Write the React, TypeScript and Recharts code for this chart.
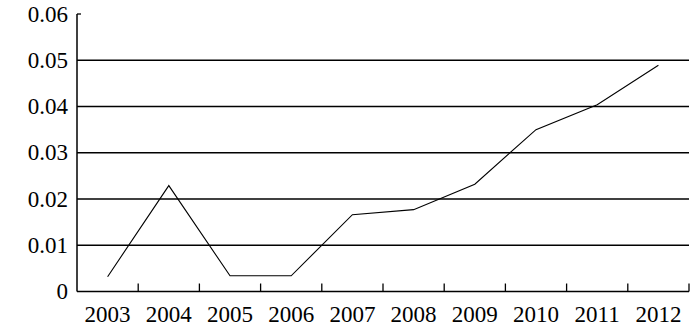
import { LineChart, Line, XAxis, YAxis, ReferenceLine } from "recharts";

const years = ["2003", "2004", "2005", "2006", "2007", "2008", "2009", "2010", "2011", "2012"];
const values = [0.0032, 0.0229, 0.0034, 0.0034, 0.0166, 0.0177, 0.0232, 0.0350, 0.0404, 0.0489];
const yTicks = [0, 0.01, 0.02, 0.03, 0.04, 0.05, 0.06];
const gridValues = [0.01, 0.02, 0.03, 0.04, 0.05];

const data = years.map((year, i) => ({ year, value: values[i] }));

const W = 700;
const H = 328;
const AXIS_X = 77;
const AXIS_Y = 291.5;
const RIGHT = 11;
const BAND = (W - AXIS_X - RIGHT) / years.length;
const FONT = "Liberation Serif, Times New Roman, serif";

function XTick(props: any) {
  const { x, payload } = props;
  const bx = x + BAND / 2;
  return (
    <g>
      <line x1={bx} y1={AXIS_Y} x2={bx} y2={AXIS_Y - 8} stroke="#000" strokeWidth={1.3} />
      <text x={x} y={322} textAnchor="middle" style={{ fontFamily: FONT, fontSize: 23 }} fill="#000">
        {payload.value}
      </text>
    </g>
  );
}

function YTick(props: any) {
  const { y, payload } = props;
  const v = payload.value as number;
  return (
    <g>
      {v === 0.06 && <line x1={AXIS_X} y1={y} x2={AXIS_X + 4} y2={y} stroke="#000" strokeWidth={1.3} />}
      <text x={AXIS_X - 9} y={y + 7.5} textAnchor="end" style={{ fontFamily: FONT, fontSize: 23 }} fill="#000">
        {v === 0 ? "0" : v.toFixed(2)}
      </text>
    </g>
  );
}

export default function App() {
  return (
    <div style={{ width: W, height: H, background: "#fff" }}>
      <style>{"body{margin:0}"}</style>
      <LineChart width={W} height={H} data={data} margin={{ top: 14, right: RIGHT, left: 0, bottom: 0 }}>
        <XAxis
          dataKey="year"
          height={H - AXIS_Y}
          padding={{ left: BAND / 2, right: BAND / 2 }}
          tickLine={false}
          axisLine={{ stroke: "#000", strokeWidth: 1.5 }}
          tick={<XTick />}
          interval={0}
        />
        <YAxis
          width={AXIS_X}
          domain={[0, 0.06]}
          ticks={yTicks}
          tickLine={false}
          tickSize={0}
          axisLine={{ stroke: "#000", strokeWidth: 1.5 }}
          tick={<YTick />}
          interval={0}
        />
        {gridValues.map((g) => (
          <ReferenceLine key={g} y={g} stroke="#000" strokeWidth={1.3} ifOverflow="extendDomain" />
        ))}
        <Line
          type="linear"
          dataKey="value"
          stroke="#000"
          strokeWidth={1.1}
          dot={false}
          activeDot={false}
          isAnimationActive={false}
        />
      </LineChart>
    </div>
  );
}
